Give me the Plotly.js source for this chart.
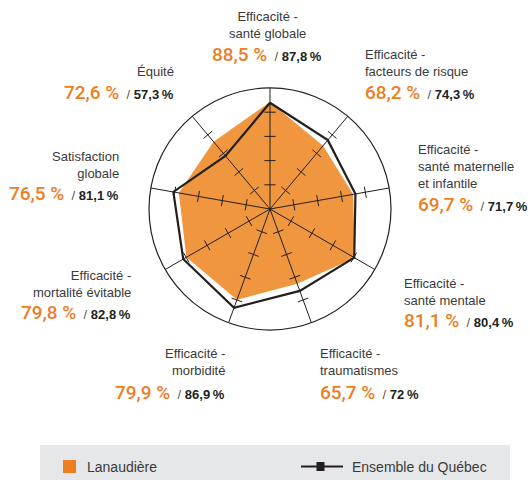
<!DOCTYPE html>
<html>
<head>
<meta charset="utf-8">
<script src="https://cdn.plot.ly/plotly-3.0.1.min.js"></script>
<style>html,body{margin:0;padding:0;background:#fff}#chart{width:530px;height:480px}</style>
</head>
<body>
<div id="chart"></div>
<script>
// ---- data ----
const categories = [
  'Efficacité - santé globale',
  'Efficacité - facteurs de risque',
  'Efficacité - santé maternelle et infantile',
  'Efficacité - santé mentale',
  'Efficacité - traumatismes',
  'Efficacité - morbidité',
  'Efficacité - mortalité évitable',
  'Satisfaction globale',
  'Équité'
];
const labelLines = [
  'Efficacité -<br>santé globale',
  'Efficacité -<br>facteurs de risque',
  'Efficacité -<br>santé maternelle<br>et infantile',
  'Efficacité -<br>santé mentale',
  'Efficacité -<br>traumatismes',
  'Efficacité -<br>morbidité',
  'Efficacité -<br>mortalité évitable',
  'Satisfaction<br>globale',
  'Équité'
];
const lanaudiere = [88.5, 68.2, 69.7, 81.1, 65.7, 79.9, 79.8, 76.5, 72.6];
const quebec     = [87.8, 74.3, 71.7, 80.4, 72.0, 86.9, 82.8, 81.1, 57.3];
const radialTicks = [20, 40, 60, 80];
const radialMax = 100;
const seriesNames = ['Lanaudière', 'Ensemble du Québec'];

// ---- styling / layout positions (pixels in 530x480) ----
const W = 530, H = 480;
const ORANGE_FILL = '#EF963F';
const ORANGE_TEXT = '#EE7D1F';
const DARK = '#231F20';
const TEXT = '#3A3A3A';
// label block: [x, yCenterOfLabel, yValueLine, anchor]
const labelPos = [
  [267, 25.5, 54, 'center'],
  [363, 62.5, 93, 'left'],
  [416, 166, 204, 'left'],
  [402, 291.5, 320, 'left'],
  [318, 362, 392, 'left'],
  [227, 362, 392, 'right'],
  [133, 284, 312, 'right'],
  [121, 164.5, 193, 'right'],
  [176, 71, 93, 'right']
];
const cx = 270, cy = 209, R = 121;

function fmt(v, sep) {
  const s = (Math.round(v * 10) / 10).toString().replace('.', ',');
  return s + sep + '%';
}
const px = x => x / W;
const py = y => 1 - y / H;

const closedCats = categories.concat([categories[0]]);

// spokes drawn over the fill
const spokeR = [], spokeT = [];
categories.forEach(c => { spokeR.push(0, radialMax, null); spokeT.push(c, c, null); });

// tick marks on every spoke
const tickR = [], tickT = [], tickA = [];
categories.forEach((c, i) => {
  radialTicks.forEach(t => { tickR.push(t); tickT.push(c); tickA.push(i * 360 / categories.length); });
});

const traces = [
  {
    type: 'scatterpolar', name: seriesNames[0],
    r: lanaudiere.concat([lanaudiere[0]]), theta: closedCats,
    mode: 'lines', fill: 'toself', fillcolor: ORANGE_FILL,
    line: {width: 0, color: ORANGE_FILL}, hoverinfo: 'skip', showlegend: false
  },
  {
    type: 'scatterpolar', r: spokeR, theta: spokeT, mode: 'lines',
    line: {color: DARK, width: 1}, hoverinfo: 'skip', showlegend: false
  },
  {
    type: 'scatterpolar', r: tickR, theta: tickT, mode: 'markers',
    marker: {symbol: 'line-ew', size: 8, angle: tickA, line: {color: DARK, width: 1}},
    hoverinfo: 'skip', showlegend: false
  },
  {
    type: 'scatterpolar', name: seriesNames[1],
    r: quebec.concat([quebec[0]]), theta: closedCats,
    mode: 'lines', line: {color: DARK, width: 2.2}, showlegend: false
  }
];

const annotations = [];
categories.forEach((c, i) => {
  const [x, yl, yv, anch] = labelPos[i];
  annotations.push({
    xref: 'paper', yref: 'paper', x: px(x), y: py(yl),
    xanchor: anch, yanchor: 'middle', align: anch, showarrow: false,
    text: labelLines[i], font: {family: 'Liberation Sans, Arial, sans-serif', size: 13, color: TEXT}
  });
  annotations.push({
    xref: 'paper', yref: 'paper', x: px(x), y: py(yv),
    xanchor: anch, yanchor: 'middle', align: anch, showarrow: false,
    text: "<span style='color:" + ORANGE_TEXT + ";font-size:19px;font-family:Roboto,Liberation Sans,sans-serif;font-weight:500'>" +
          fmt(lanaudiere[i], ' ') +
          "</span><span style='color:#555'>\u00a0 / </span><b>" + fmt(quebec[i], '\u2009') + "</b>",
    font: {family: 'Liberation Sans, Arial, sans-serif', size: 13, color: DARK}
  });
});
// legend texts
annotations.push({
  xref: 'paper', yref: 'paper', x: px(85), y: py(467), xanchor: 'left', yanchor: 'middle',
  showarrow: false, text: seriesNames[0],
  font: {family: 'Liberation Sans, Arial, sans-serif', size: 14, color: TEXT}
});
annotations.push({
  xref: 'paper', yref: 'paper', x: px(350), y: py(467), xanchor: 'left', yanchor: 'middle',
  showarrow: false, text: seriesNames[1],
  font: {family: 'Liberation Sans, Arial, sans-serif', size: 14, color: TEXT}
});

const shapes = [
  {type: 'rect', xref: 'paper', yref: 'paper', x0: px(40), x1: px(510), y0: py(480), y1: py(445),
   fillcolor: '#E6E7E8', line: {width: 0}, layer: 'below'},
  {type: 'rect', xref: 'paper', yref: 'paper', x0: px(63), x1: px(76), y0: py(473), y1: py(460),
   fillcolor: '#EE7F1F', line: {width: 0}},
  {type: 'line', xref: 'paper', yref: 'paper', x0: px(301), x1: px(343), y0: py(466.5), y1: py(466.5),
   line: {color: DARK, width: 2.2}},
  {type: 'rect', xref: 'paper', yref: 'paper', x0: px(316.5), x1: px(324.5), y0: py(471), y1: py(462),
   fillcolor: DARK, line: {width: 0}}
];

const layout = {
  width: W, height: H,
  margin: {l: 0, r: 0, t: 0, b: 0},
  paper_bgcolor: '#fff',
  showlegend: false,
  font: {family: 'Liberation Sans, Arial, sans-serif'},
  polar: {
    domain: {x: [px(cx - R), px(cx + R)], y: [py(cy + R), py(cy - R)]},
    bgcolor: 'rgba(0,0,0,0)',
    radialaxis: {range: [0, radialMax], visible: false, showgrid: false},
    angularaxis: {
      direction: 'clockwise', rotation: 90, showgrid: false,
      showticklabels: false, ticks: '', showline: true, linecolor: DARK, linewidth: 1.2
    }
  },
  annotations: annotations,
  shapes: shapes
};

Plotly.newPlot('chart', traces, layout, {staticPlot: true});
</script>
</body>
</html>
